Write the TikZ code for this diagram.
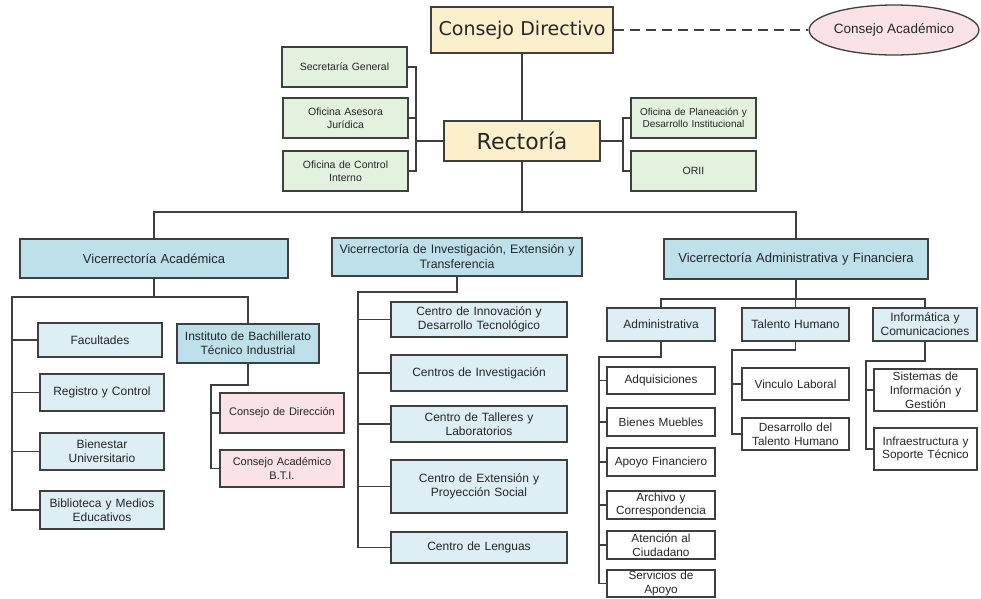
\documentclass[tikz,border=0pt]{standalone}
\usepackage{fontspec}
\setmainfont{Liberation Sans}
\newfontfamily\titlefont{DejaVu Sans}
\usetikzlibrary{shapes.geometric}

\definecolor{cyel}{HTML}{FCF0CC}
\definecolor{cgrn}{HTML}{E3F1DF}
\definecolor{cblu}{HTML}{BDE0EA}
\definecolor{clbl}{HTML}{DDEEF4}
\definecolor{cpnk}{HTML}{FBE2E6}
\definecolor{cedge}{HTML}{3F3F3F}
\definecolor{ctxt}{HTML}{262626}

% box placed by its corners: [style]{name}{x1}{y1}{x2}{y2}{text}
\newcommand\orgbox[7][]{%
  \pgfmathsetmacro\bw{#5-#3}%
  \pgfmathsetmacro\bh{#6-#4}%
  \pgfmathsetmacro\tw{#5-#3-4}%
  \node[#1, minimum width=\bw pt, minimum height=\bh pt, text width=\tw pt]
    (#2) at ({(#3+#5)/2},{(#4+#6)/2}) {#7};%
}

\tikzset{
  box/.style={draw=cedge, line width=1.3pt, inner sep=0pt, align=center,
    text=ctxt, font=\fontsize{12}{14}\selectfont},
  head/.style={box, fill=cyel},
  staff/.style={box, fill=cgrn, font=\fontsize{10.5}{12.5}\selectfont},
  vice/.style={box, fill=cblu, font=\fontsize{13}{15}\selectfont},
  inst/.style={box, fill=cblu},
  unit/.style={box, fill=clbl},
  council/.style={box, fill=cpnk, font=\fontsize{11}{13.5}\selectfont},
  plain/.style={box, fill=white, font=\fontsize{11.8}{13.8}\selectfont},
  link/.style={draw=cedge, line width=1.4pt},
}

\begin{document}
\begin{tikzpicture}[x=1pt,y=-1pt]
\useasboundingbox (0,0) rectangle (981,598);

% top level
\orgbox[head, font=\titlefont\fontsize{19}{22}\selectfont]{cd}{431}{7}{613}{53}{Consejo Directivo}
\node[ellipse, draw=cedge, line width=1.3pt, fill=cpnk, text=ctxt,
  minimum width=167pt, minimum height=50pt, inner sep=0pt,
  font=\fontsize{13.5}{15}\selectfont] (ca) at (894,30) {Consejo Académico};
\orgbox[head, font=\titlefont\fontsize{22}{26}\selectfont]{rec}{444}{121}{600}{161}{Rectoría}

% staff offices
\orgbox[staff]{sg}{282}{47}{407}{87}{Secretaría General}
\orgbox[staff]{oaj}{283}{98}{408}{138}{Oficina Asesora\\Jurídica}
\orgbox[staff]{oci}{283}{151}{408}{191}{Oficina de Control\\Interno}
\orgbox[staff, font=\fontsize{10}{12.5}\selectfont]{opd}{631}{98}{756}{138}{Oficina de Planeación y\\Desarrollo Institucional}
\orgbox[staff]{orii}{631}{151}{756}{191}{ORII}

% vice-rectorates
\orgbox[vice]{va}{20}{239}{288}{278}{Vicerrectoría Académica}
\orgbox[vice, font=\fontsize{12.3}{15}\selectfont]{vi}{332}{238}{582}{276}{Vicerrectoría de Investigación, Extensión y\\Transferencia}
\orgbox[vice]{vaf}{664}{239}{928}{279}{Vicerrectoría Administrativa y Financiera}

% academic branch
\orgbox[unit]{fac}{38}{323}{162}{357}{Facultades}
\orgbox[inst]{ibt}{177}{324}{319}{363}{Instituto de Bachillerato\\Técnico Industrial}
\orgbox[unit]{ryc}{40}{374}{164}{411}{Registro y Control}
\orgbox[unit]{bu}{40}{433}{164}{470}{Bienestar\\Universitario}
\orgbox[unit]{bib}{40}{491}{164}{529}{Biblioteca y Medios\\Educativos}
\orgbox[council]{cdir}{220}{393}{344}{433}{Consejo de Dirección}
\orgbox[council]{cabti}{220}{450}{344}{487}{Consejo Académico\\B.T.I.}

% research branch
\orgbox[unit]{cidt}{391}{302}{567}{337}{Centro de Innovación y\\Desarrollo Tecnológico}
\orgbox[unit]{cinv}{391}{355}{567}{391}{Centros de Investigación}
\orgbox[unit]{ctl}{391}{406}{567}{442}{Centro de Talleres y\\Laboratorios}
\orgbox[unit]{cext}{391}{460}{567}{513}{Centro de Extensión y\\Proyección Social}
\orgbox[unit]{cle}{391}{532}{567}{563}{Centro de Lenguas}

% administrative branch
\orgbox[unit]{adm}{607}{308}{715}{341}{Administrativa}
\orgbox[unit]{th}{742}{308}{849}{341}{Talento Humano}
\orgbox[unit]{inf}{873}{308}{977}{341}{Informática y\\Comunicaciones}

\orgbox[plain]{adq}{607}{367}{715}{394}{Adquisiciones}
\orgbox[plain]{bm}{607}{408}{715}{436}{Bienes Muebles}
\orgbox[plain]{af}{607}{448}{715}{476}{Apoyo Financiero}
\orgbox[plain]{arc}{607}{491}{715}{519}{Archivo y\\Correspondencia}
\orgbox[plain]{atc}{607}{531}{715}{559}{Atención al\\Ciudadano}
\orgbox[plain]{sda}{607}{570}{715}{597}{Servicios de\\Apoyo}

\orgbox[plain]{vl}{742}{368}{849}{400}{Vinculo Laboral}
\orgbox[plain]{dth}{742}{418}{849}{450}{Desarrollo del\\Talento Humano}
\orgbox[plain]{sig}{874}{369}{977}{411}{Sistemas de\\Información y\\Gestión}
\orgbox[plain]{ist}{874}{428}{977}{470}{Infraestructura y\\Soporte Técnico}

% ---- connectors ----
\draw[link] (cd) -- (rec);
\draw[link, dash pattern=on 10pt off 6pt] (cd.east) -- (ca.west);

\coordinate (lb) at (416,141);
\draw[link] (sg.east) -| (lb) |- (oci.east);
\draw[link] (oaj.east) -- (oaj.east -| lb);
\draw[link] (lb) -- (rec.west);

\coordinate (rb) at (623,141);
\draw[link] (rec.east) -- (rb);
\draw[link] (opd.west) -| (rb) |- (orii.west);

\coordinate (bar) at (522,212);
\draw[link] (rec.south) -- (bar);
\draw[link] (va.north) -- (va.north |- bar) -- (vaf.north |- bar) -- (vaf.north);

% academic
\coordinate (vasp) at (12,297);
\draw[link] (va.south) -- (va.south |- vasp);
\draw[link] (ibt.north) -- (ibt.north |- vasp) -- (vasp) |- (bib.west);
\foreach \n in {fac,ryc,bu} \draw[link] (\n.west) -- (\n.west -| vasp);

\coordinate (ibsp) at (211,385);
\draw[link] (ibt.south) -- (ibt.south |- ibsp) -- (ibsp) |- (cabti.west);
\draw[link] (cdir.west) -- (cdir.west -| ibsp);

% research
\coordinate (visp) at (358,292);
\draw[link] (vi.south) -- (vi.south |- visp) -- (visp) |- (cle.west);
\foreach \n in {cidt,cinv,ctl,cext} \draw[link] (\n.west) -- (\n.west -| visp);

% administrative
\coordinate (vafb) at (0,299);
\draw[link] (vaf.south) -- (vaf.south |- vafb);
\draw[link] (adm.north) -- (adm.north |- vafb) -- (inf.north |- vafb) -- (inf.north);
\draw[link] (th.north) -- (th.north |- vafb);

\coordinate (adsp) at (599,357);
\draw[link] (adm.south) -- (adm.south |- adsp) -- (adsp) |- (sda.west);
\foreach \n in {adq,bm,af,arc,atc} \draw[link] (\n.west) -- (\n.west -| adsp);

\coordinate (thsp) at (732,350);
\draw[link] (th.south) -- (th.south |- thsp) -- (thsp) |- (dth.west);
\draw[link] (vl.west) -- (vl.west -| thsp);

\coordinate (insp) at (866,361);
\draw[link] (inf.south) -- (inf.south |- insp) -- (insp) |- (ist.west);
\draw[link] (sig.west) -- (sig.west -| insp);
\end{tikzpicture}
\end{document}
